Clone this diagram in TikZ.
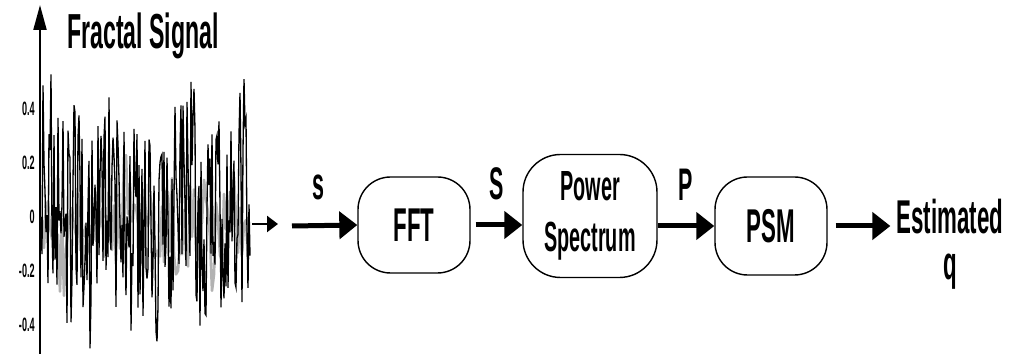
\documentclass[tikz,border=0pt]{standalone}
\usepackage{fontspec}
\newfontfamily\narrowsans{Liberation Sans}[FakeStretch=0.47]
\usetikzlibrary{arrows.meta}

\begin{document}
\begin{tikzpicture}[x=0.02cm, y=-0.02cm,
    block/.style={draw, line width=0.8pt, rounded corners=0.65cm, align=center, inner sep=0pt, font=\narrowsans\bfseries\fontsize{27}{29}\selectfont},
    arr/.style={-{Triangle[length=0.36cm, width=0.54cm]}, line width=0.1cm},
    smallarr/.style={-{Triangle[length=0.22cm, width=0.32cm]}, line width=1.4pt},
    axisarr/.style={-{Triangle[length=0.5cm, width=0.26cm]}, line width=1.2pt},
    lbl/.style={font=\narrowsans\bfseries\fontsize{26}{28}\selectfont, inner sep=0pt, above=0.46cm},
    headtext/.style={font=\narrowsans\bfseries\fontsize{28}{30}\selectfont, inner sep=0pt},
    outtext/.style={font=\narrowsans\bfseries\fontsize{27}{26}\selectfont, inner sep=0pt, align=center},
    ticklbl/.style={font=\narrowsans\bfseries\fontsize{11}{11}\selectfont, anchor=east, inner sep=0pt},
    siggray/.style={gray!60, line width=1.5pt, line join=round},
    sigblack/.style={black, line width=0.75pt}
]
\useasboundingbox (0,0) rectangle (1012,354);

\coordinate (origin) at (40,354);
\coordinate (ytop) at (40,5);
\draw[axisarr] (origin) -- (ytop);
\node[headtext] (title) at (143,36) {Fractal Signal};
\foreach \v/\yy in {0.4/109, 0.2/163, 0/217, -0.2/271, -0.4/325}
    \node[ticklbl] at (35,\yy) {\v};

\pgfmathsetseed{11}
\draw[siggray] (42,217) foreach \i [remember=\g as \lastg (initially 0), evaluate=\i as \g using {0.8*\lastg+22*rand}] in {44,46,...,248} { -- (\i,{217+\g+40*rand}) };
\draw[sigblack] (41,217) foreach \i [remember=\b as \lastb (initially 0), evaluate=\i as \b using {0.9*\lastb+16*rand}] in {42,...,250} { -- (\i,{217+\b+110*rand}) };

\coordinate (sigend) at (252,224);
\coordinate (sigtip) at (278,224);
\coordinate (sin) at (292,226);
\node[block, minimum width=2.24cm, minimum height=1.92cm] (fft) at (414,225) {FFT};
\node[block, minimum width=2.68cm, minimum height=2.46cm, rounded corners=0.75cm, font=\narrowsans\bfseries\fontsize{24}{29}\selectfont] (power) at (590,216) {Power\\Spectrum};
\node[block, minimum width=2.24cm, minimum height=1.96cm] (psm) at (771,226) {PSM};
\node[outtext] (est) at (950,244) {Estimated\\q};

\draw[smallarr] (sigend) -- (sigtip);
\draw[arr] (sin) -- (fft.west) node[lbl, pos=0.4] {s};
\draw[arr, shorten <=0.1cm] (fft.east) -- (fft.east -| power.west) node[lbl, midway] {S};
\draw[arr] (power.east |- psm.west) -- (psm.west) node[lbl, midway] {P};
\draw[arr, shorten <=0.16cm, shorten >=0.12cm] (psm.east) -- (psm.east -| est.west);
\end{tikzpicture}
\end{document}
